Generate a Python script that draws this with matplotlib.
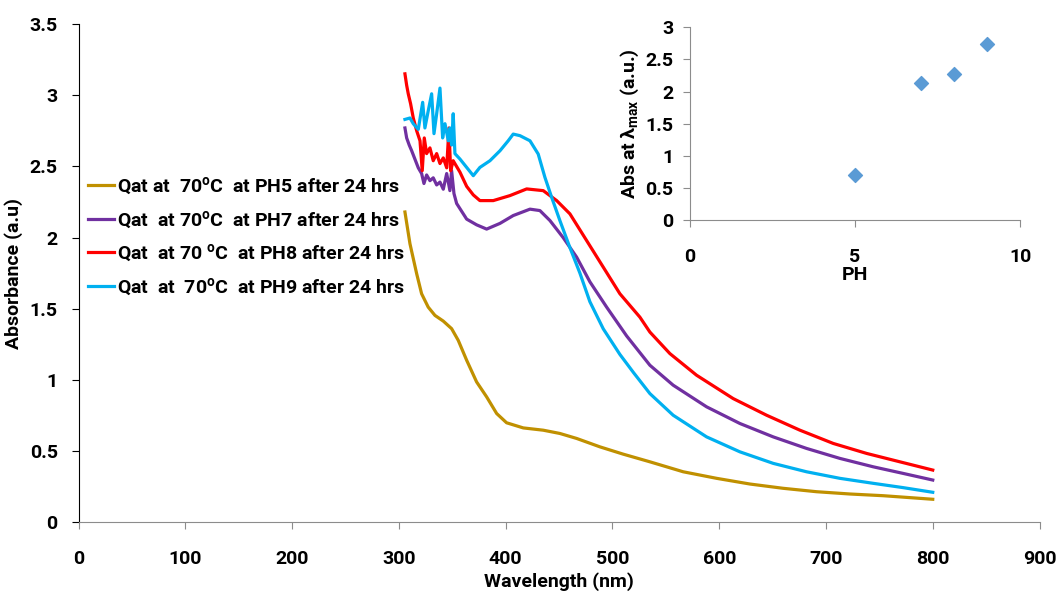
import matplotlib
matplotlib.use("Agg")
import matplotlib.pyplot as plt

plt.rcParams['font.family'] = ['Roboto', 'DejaVu Sans']
plt.rcParams['font.weight'] = 'bold'
plt.rcParams['mathtext.default'] = 'regular'

# absorbance spectra (wavelength nm, absorbance a.u.)
wl_ph5 = [305.7, 310.4, 316.7, 321.3, 327.5, 333.8, 341.6, 349.4, 355.6, 363.5, 372.8,
          382.2, 391.6, 400.9, 416.5, 435.2, 450.8, 466.5, 488.3, 510.0, 535.1, 566.3,
          597.6, 628.8, 659.9, 691.2, 722.4, 753.6, 800.0]
abs_ph5 = [2.18, 1.957, 1.746, 1.606, 1.512, 1.454, 1.414, 1.361, 1.279, 1.139, 0.987,
           0.882, 0.765, 0.70, 0.664, 0.648, 0.625, 0.59, 0.531, 0.48, 0.426, 0.356,
           0.31, 0.27, 0.24, 0.216, 0.2, 0.188, 0.163]

wl_ph7 = [305.7, 307.3, 309.7, 312.0, 315.1, 318.2, 321.3, 323.5, 326.0, 329.1, 332.2,
          335.4, 338.5, 341.6, 344.8, 347.8, 349.4, 351.6, 354.1, 363.5, 372.8, 382.2,
          394.7, 407.1, 422.8, 432.1, 441.5, 453.9, 466.5, 478.9, 494.6, 513.3, 535.1,
          556.9, 588.2, 619.4, 650.6, 681.8, 713.0, 744.2, 772.0, 800.0]
abs_ph7 = [2.77, 2.70, 2.65, 2.61, 2.55, 2.49, 2.45, 2.38, 2.44, 2.40, 2.42,
           2.37, 2.39, 2.34, 2.45, 2.33, 2.47, 2.31, 2.24, 2.13, 2.09, 2.06,
           2.10, 2.155, 2.20, 2.19, 2.12, 2.00, 1.863, 1.69, 1.512, 1.31, 1.104,
           0.964, 0.812, 0.695, 0.601, 0.52, 0.45, 0.391, 0.345, 0.298]

wl_ph8 = [305.7, 307.3, 308.8, 311.0, 313.5, 316.7, 319.8, 321.9, 323.8, 326.0, 329.1,
          332.2, 335.4, 338.5, 341.6, 344.8, 346.9, 348.5, 350.9, 357.2, 363.5, 369.7,
          375.9, 388.4, 404.0, 419.7, 435.2, 447.8, 460.2, 475.8, 491.4, 507.0, 525.7,
          535.1, 553.8, 578.8, 613.1, 644.4, 675.6, 706.8, 738.0, 769.2, 800.0]
abs_ph8 = [3.15, 3.07, 3.01, 2.94, 2.84, 2.75, 2.68, 2.47, 2.70, 2.59, 2.63,
           2.54, 2.59, 2.52, 2.56, 2.49, 2.77, 2.47, 2.54, 2.46, 2.36, 2.30,
           2.26, 2.26, 2.295, 2.342, 2.33, 2.26, 2.167, 1.98, 1.793, 1.606, 1.442,
           1.337, 1.186, 1.034, 0.870, 0.753, 0.648, 0.555, 0.485, 0.426, 0.368]

wl_ph9 = [305.7, 310.4, 313.5, 318.2, 322.3, 324.4, 327.5, 330.7, 332.9, 335.4, 338.5,
          341.0, 343.2, 346.3, 347.8, 349.4, 350.9, 352.5, 357.2, 363.5, 369.7, 375.9,
          385.3, 394.7, 402.4, 407.1, 413.4, 422.8, 430.5, 436.8, 443.1, 450.8, 460.2,
          469.6, 478.9, 491.4, 507.0, 520.0, 535.1, 556.9, 588.2, 619.4, 650.6, 681.8,
          713.0, 744.2, 772.0, 800.0]
abs_ph9 = [2.83, 2.84, 2.80, 2.76, 2.95, 2.77, 2.89, 3.01, 2.73, 2.87, 3.05,
           2.70, 2.80, 2.68, 2.77, 2.65, 2.87, 2.59, 2.552, 2.493, 2.435, 2.493,
           2.54, 2.61, 2.68, 2.727, 2.716, 2.68, 2.587, 2.423, 2.283, 2.12, 1.93,
           1.75, 1.55, 1.36, 1.18, 1.05, 0.905, 0.753, 0.601, 0.496, 0.415, 0.356,
           0.31, 0.275, 0.245, 0.212]

labels = [r"Qat at  70$^{o}$C  at PH5 after 24 hrs",
          r"Qat  at 70$^{o}$C  at PH7 after 24 hrs",
          r"Qat  at 70 $^{o}$C  at PH8 after 24 hrs",
          r"Qat  at  70$^{o}$C  at PH9 after 24 hrs"]
colors = ['#C09000', '#7030A0', '#FF0000', '#00B0F0']

# inset: absorbance at lambda max vs pH
ph = [5, 7, 8, 9]
abs_max = [0.70, 2.14, 2.28, 2.74]

fig = plt.figure(figsize=(10.64, 5.94), dpi=100)
ax = fig.add_axes([0.0738, 0.1204, 0.9032, 0.8392])

series = [(wl_ph5, abs_ph5), (wl_ph7, abs_ph7), (wl_ph8, abs_ph8), (wl_ph9, abs_ph9)]
for (x, y), lab, c in zip(series, labels, colors):
    ax.plot(x, y, color=c, lw=2.3, label=lab)

ax.set_xlim(0, 900)
ax.set_ylim(0, 3.5)
ax.set_xticks(range(0, 1000, 100))
ax.set_yticks([0, 0.5, 1, 1.5, 2, 2.5, 3, 3.5])
ax.set_yticklabels(['0', '0.5', '1', '1.5', '2', '2.5', '3', '3.5'])
ax.spines['top'].set_visible(False)
ax.spines['right'].set_visible(False)
ax.spines['left'].set_color('black')
ax.spines['bottom'].set_color('#8C8C8C')
ax.tick_params(axis='x', colors='#8C8C8C', labelcolor='black', labelsize=14, length=5, pad=15)
ax.tick_params(axis='y', colors='black', labelsize=14, length=5, pad=10)
ax.set_xlabel('Wavelength (nm)', fontsize=14, fontweight='bold', labelpad=3)
ax.set_ylabel('Absorbance (a.u)', fontsize=14, fontweight='bold', labelpad=5)

leg = ax.legend(loc='upper left', bbox_to_anchor=(-0.008, 0.73), frameon=False,
                fontsize=14, handlelength=1.3, handletextpad=0.15, labelspacing=0.62)

ins = fig.add_axes([0.6485, 0.6296, 0.3102, 0.3244])
ins.scatter(ph, abs_max, marker='D', s=50, color='#5B9BD5', zorder=3)
ins.set_xlim(0, 10)
ins.set_ylim(0, 3)
ins.set_xticks([0, 5, 10])
ins.set_yticks([0, 0.5, 1, 1.5, 2, 2.5, 3])
ins.set_yticklabels(['0', '0.5', '1', '1.5', '2', '2.5', '3'])
ins.spines['top'].set_visible(False)
ins.spines['right'].set_visible(False)
ins.spines['left'].set_color('#8C8C8C')
ins.spines['bottom'].set_color('#8C8C8C')
ins.patch.set_alpha(0)
ins.tick_params(axis='x', colors='#8C8C8C', labelcolor='black', labelsize=14, length=5, pad=15)
ins.tick_params(axis='y', colors='#8C8C8C', labelcolor='black', labelsize=14, length=5, pad=7)
ins.set_xlabel('PH', fontsize=14, fontweight='bold', labelpad=0)
ins.set_ylabel(r'Abs at $\lambda_{max}$ (a.u.)', fontsize=14, fontweight='bold', labelpad=3)

fig.savefig('out.png', dpi=100)
